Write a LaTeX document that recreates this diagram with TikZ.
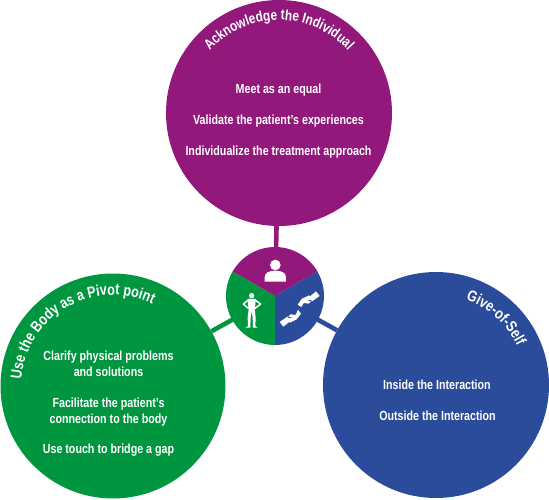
\documentclass[tikz,border=0pt]{standalone}
\usepackage{fontspec}
\setmainfont{Liberation Sans}[FakeStretch=0.81]
\usetikzlibrary{decorations.text}
\definecolor{pur}{HTML}{92187C}
\definecolor{grn}{HTML}{009640}
\definecolor{blu}{HTML}{2B4B9B}
\tikzset{
  bigc/.style={circle,inner sep=0pt,minimum size=#1},
  lbl/.style={text=white,font=\fontsize{13.2}{15.7}\selectfont\bfseries,align=center,inner sep=0pt},
  link/.style={line width=4.6pt},
  arctext/.style 2 args={decorate,decoration={text along path,text align=center,text color=white,
    text={|\fontsize{#1}{16}\selectfont\bfseries|#2}}},
}
\begin{document}
\begin{tikzpicture}[x=1pt,y=1pt]
\useasboundingbox (0,0) rectangle (549,499);
\coordinate (cc) at (275,203);
\node[bigc=226pt,fill=pur] (top) at (279,386) {};
\node[bigc=225pt,fill=grn] (left) at (113,113) {};
\node[bigc=226pt,fill=blu] (right) at (436,114) {};
\draw[link,pur] (cc) -- (top);
\draw[link,grn] (cc) -- (left);
\draw[link,blu] (cc) -- (right);
% hub
\fill[pur] (cc) -- ++(150:49) arc (150:30:49) -- cycle;
\fill[blu] (cc) -- ++(30:49) arc (30:-90:49) -- cycle;
\fill[grn] (cc) -- ++(-90:49) arc (-90:-210:49) -- cycle;
% icons, in 3x coordinates of the hub crop
\begin{scope}[shift={(210,269)},x=0.3333pt,y=-0.3333pt]
  % person
  \fill[white] (196,105) circle (16);
  \fill[white] (164,155) -- (164,142) .. controls (164,128) and (178,122) .. (196,122)
     .. controls (214,122) and (228,128) .. (228,142) -- (228,155) -- cycle;
  % figure
  \fill[white] (125,197) circle (8);
  \fill[white] (113,207) -- (137,207) -- (136,225) -- (134,238) -- (137,262) -- (136,288) -- (143,293)
     -- (129,293) -- (128,262) -- (125,244) -- (122,262) -- (121,293) -- (107,293) -- (114,288)
     -- (113,262) -- (116,238) -- (114,225) -- cycle;
  \draw[white,line width=1.5pt,line join=round] (115,210) -- (100,222) -- (116,236);
  \draw[white,line width=1.5pt,line join=round] (135,210) -- (152,222) -- (134,236);
  % hands
  \fill[white] (318,184) -- (329,198) -- (306,214) -- (297,202) -- cycle;
  \fill[white] (263,224) -- (276,206) -- (298,196) -- (305,208) -- (290,212) -- (303,214) -- (296,221)
     -- (281,219) -- (274,231) -- cycle;
  \fill[white] (220,290) -- (209,276) -- (232,260) -- (243,272) -- cycle;
  \fill[white] (273,251) -- (260,268) -- (240,278) -- (233,266) -- (248,262) -- (235,260) -- (242,253)
     -- (257,255) -- (264,239) -- cycle;
\end{scope}
\node[lbl,anchor=base] (t1) at (278.5,405.7) {Meet as an equal};
\node[lbl,anchor=base] (t2) at (278.5,374.7) {Validate the patient's experiences};
\node[lbl,anchor=base] (t3) at (278.5,343.3) {Individualize the treatment approach};
\node[lbl] (t4) at (108.5,135) {Clarify physical problems\\and solutions};
\node[lbl] (t5) at (108.5,87) {Facilitate the patient's\\connection to the body};
\node[lbl,anchor=base] (t6) at (108.5,45.7) {Use touch to bridge a gap};
\node[lbl,anchor=base] (t7) at (437,110) {Inside the Interaction};
\node[lbl,anchor=base] (t8) at (437.5,78.7) {Outside the Interaction};
\path[arctext={14.6}{Acknowledge the Individual}] (279,386) ++(150:93) arc (150:30:93);
\path[arctext={15.6}{Use the Body as a Pivot point}] (113,112) ++(190:92) arc (190:50:92);
\path[arctext={15.6}{Give-of-Self}] (436,114) ++(80:90) arc (80:16:90);
\end{tikzpicture}
\end{document}
